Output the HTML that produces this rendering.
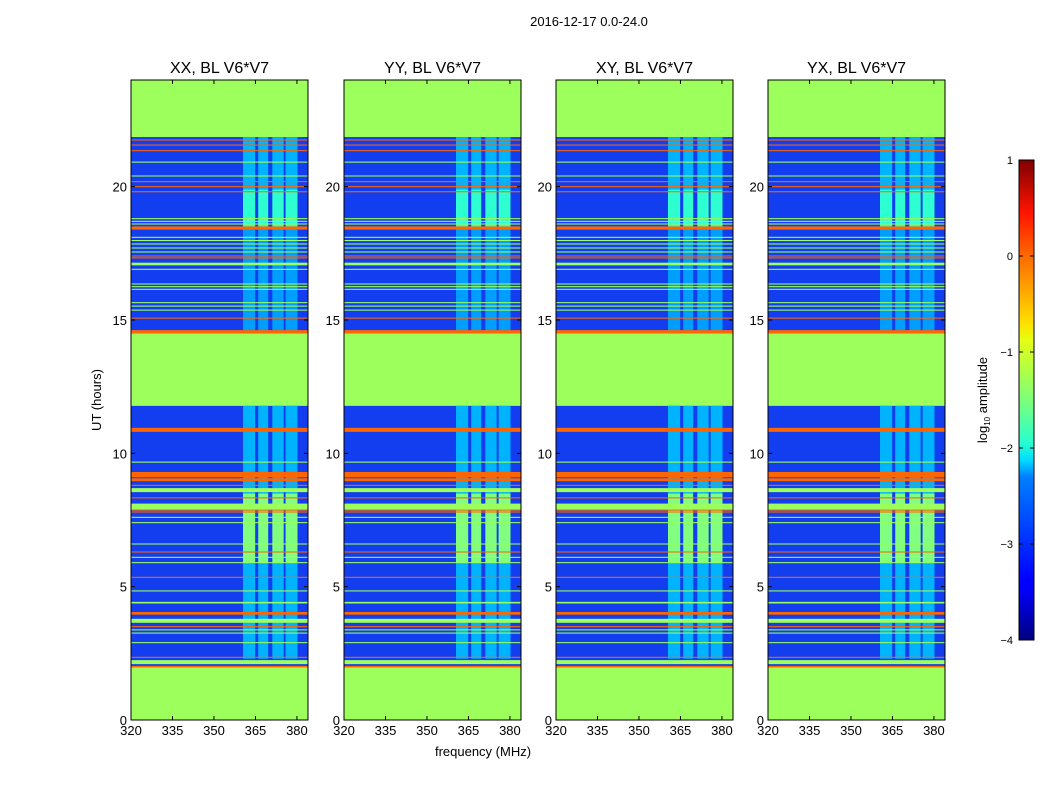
<!DOCTYPE html>
<html><head><meta charset="utf-8"><style>
body{margin:0;background:#fff;width:1050px;height:800px;overflow:hidden;font-family:"Liberation Sans",sans-serif}
svg text{font-family:"Liberation Sans",sans-serif;fill:#000}
</style></head><body>
<svg id="fig" width="1050" height="800" xmlns="http://www.w3.org/2000/svg">
<defs>
<linearGradient id="jet" x1="0" y1="1" x2="0" y2="0">
<stop offset="0" stop-color="#00007f"/><stop offset="0.11" stop-color="#0000ff"/>
<stop offset="0.125" stop-color="#0000ff"/><stop offset="0.34" stop-color="#0080ff"/>
<stop offset="0.375" stop-color="#00dcff"/><stop offset="0.41" stop-color="#26ffd0"/>
<stop offset="0.5" stop-color="#7dff7a"/><stop offset="0.625" stop-color="#e5ff12"/>
<stop offset="0.66" stop-color="#ffe000"/><stop offset="0.8" stop-color="#ff6a00"/>
<stop offset="0.89" stop-color="#ff1400"/><stop offset="1" stop-color="#7f0000"/>
</linearGradient>
</defs>
<text x="589" y="26" font-size="13" text-anchor="middle">2016-12-17 0.0-24.0</text>
<text x="483" y="756" font-size="13" text-anchor="middle">frequency (MHz)</text>
<text x="0" y="0" font-size="13" text-anchor="middle" transform="translate(101,400) rotate(-90)">UT (hours)</text>
<g id="panels"></g>
<g>
<rect x="1019" y="160" width="15" height="480" fill="url(#jet)" stroke="#000" stroke-width="1"/>
<g id="cbticks"></g>
<text x="0" y="0" font-size="13" text-anchor="middle" transform="translate(987,400) rotate(-90)">log<tspan font-size="8" dy="3">10</tspan><tspan dy="-3"> amplitude</tspan></text>
</g>
</svg>
<script>
const panelTitles=["XX, BL V6*V7","YY, BL V6*V7","XY, BL V6*V7","YX, BL V6*V7"];
const panelLeft=[131,344,556,768];
const xTicks=[320,335,350,365,380];
const yTicks=[0,5,10,15,20];
const cbTicks=[1,0,-1,-2,-3,-4];
// data (valid) time segments [start,end] hours
const dataSegments=[[2.0,11.78],[14.5,21.86]];
// strong frequency bands [f0,f1] MHz
const bandsF0=[360.5,366.0,371.1,375.9];
const bandsF1=[364.9,369.6,375.2,380.2];
// bright periods in bands: [start,end,logAmp]
const bandPeriods=[[2.3,5.9,-2.5],[5.9,8.5,-1.5],[8.5,11.78,-2.5],[14.5,18.5,-2.6],[18.5,19.9,-1.9],[19.9,21.86,-2.5]];
// RFI lines: hour and log amplitude
const lineHours=[21.75,21.56,21.35,20.92,20.4,20.19,20.0,19.81,18.8,18.7,18.6,18.45,18.1,17.98,17.85,17.7,17.55,17.4,17.33,17.1,16.9,16.35,16.25,16.15,15.65,15.52,15.37,15.07,14.56,
10.88,9.67,9.2,9.01,8.8,8.62,8.33,8.0,7.87,7.8,7.6,7.4,6.6,6.3,6.1,5.9,5.35,4.84,4.4,4.0,3.72,3.5,3.38,3.26,2.9,2.35,2.17,2.0];
const lineValues=[0,0,0,-0.9,-0.9,0,0,0,-0.9,-0.9,-0.9,0,-0.9,-0.9,-0.9,-0.9,-0.9,0,0,-0.9,-0.9,-0.9,-0.9,-0.9,-0.9,-0.9,-0.9,0,0,
0,-0.9,0,0,0,-0.9,0,-0.9,0,0,-0.9,-0.9,-0.9,0,-0.9,-0.9,0,-0.9,-0.9,0,-0.9,0,-0.9,-0.9,-0.9,0,-0.9,0];
const lineWidths=[0.04,0.04,0.04,0.04,0.04,0.04,0.04,0.04,0.04,0.04,0.04,0.12,0.04,0.04,0.04,0.04,0.04,0.04,0.04,0.1,0.04,0.04,0.04,0.04,0.04,0.04,0.04,0.04,0.12,
0.15,0.04,0.2,0.11,0.04,0.15,0.04,0.23,0.04,0.04,0.04,0.04,0.04,0.04,0.04,0.04,0.04,0.04,0.06,0.1,0.15,0.04,0.04,0.04,0.04,0.04,0.15,0.06];
const background=-3.3, flagged=-0.9;

const PW=177, PT=80, PB=720;
const ys=h=>PB-(h/24)*(PB-PT);
const xs=(p,f)=>panelLeft[p]+(f-320)/(384-320)*PW;
function jet(v){let t=Math.max(0,Math.min(1,(v+4)/5));
 const c=x=>Math.round(255*Math.max(0,Math.min(1,x)));
 return `rgb(${c(1.5-Math.abs(4*t-3))},${c(1.5-Math.abs(4*t-2))},${c(1.5-Math.abs(4*t-1))})`;}
const NS="http://www.w3.org/2000/svg";
function mk(tag,attrs,parent){const e=document.createElementNS(NS,tag);for(const k in attrs)e.setAttribute(k,attrs[k]);parent.appendChild(e);return e;}
const root=document.getElementById('panels');
panelTitles.forEach((t,p)=>{
 const g=mk('g',{},root);
 
 
 const L=panelLeft[p];
 mk('rect',{x:L,y:PT,width:PW,height:PB-PT,fill:'#9cff5c'},g);
 dataSegments.forEach(s=>{
  const r=mk('rect',{x:L,y:ys(s[1]),width:PW,height:ys(s[0])-ys(s[1]),fill:'rgb(18,62,240)'},g);
  
  
 });
 bandsF0.forEach((f0,i)=>{
  bandPeriods.forEach(bp=>{
   const r=mk('rect',{x:xs(p,f0),y:ys(bp[1]),width:xs(p,bandsF1[i])-xs(p,f0),height:ys(bp[0])-ys(bp[1]),fill:jet(bp[2])},g);
   
   
  });
 });
 lineHours.forEach((h,i)=>{
  const w=lineWidths[i];
  const r=mk('rect',{x:L,y:ys(h+w/2),width:PW,height:Math.max(1,ys(h-w/2)-ys(h+w/2)),fill:lineValues[i]>=-0.5?'#ff6600':'#9cff5c'},g);
  
  
 });
 mk('rect',{x:L,y:PT,width:PW,height:PB-PT,fill:'none',stroke:'#000','stroke-width':1},g);
 const tt=mk('text',{x:L+PW/2,y:73,'font-size':16,'text-anchor':'middle'},g);
 tt.textContent=t;
 
 
 xTicks.forEach(f=>{
  const x=xs(p,f);
  mk('line',{x1:x,x2:x,y1:PB,y2:PB-4,stroke:'#000'},g);
  mk('line',{x1:x,x2:x,y1:PT,y2:PT+4,stroke:'#000'},g);
  const lb=mk('text',{x:x,y:PB+15,'font-size':13,'text-anchor':'middle'},g);
  lb.textContent=f;
  
  
 });
 yTicks.forEach(h=>{
  const y=ys(h);
  mk('line',{x1:L,x2:L+4,y1:y,y2:y,stroke:'#000'},g);
  mk('line',{x1:L+PW,x2:L+PW-4,y1:y,y2:y,stroke:'#000'},g);
  const lb=mk('text',{x:L-4,y:y+5,'font-size':13,'text-anchor':'end'},g);
  lb.textContent=h;
  
  
 });
});
const cbg=document.getElementById('cbticks');
cbTicks.forEach(v=>{
 const y=640-(v+4)/5*480;
 mk('line',{x1:1019,x2:1023,y1:y,y2:y,stroke:'#000'},cbg);
 mk('line',{x1:1034,x2:1030,y1:y,y2:y,stroke:'#000'},cbg);
 const lb=mk('text',{x:1013,y:y+4,'font-size':11,'text-anchor':'end'},cbg);
 lb.textContent=v<0?'\u2212'+(-v):v;
 
 
});
</script>
</body></html>
